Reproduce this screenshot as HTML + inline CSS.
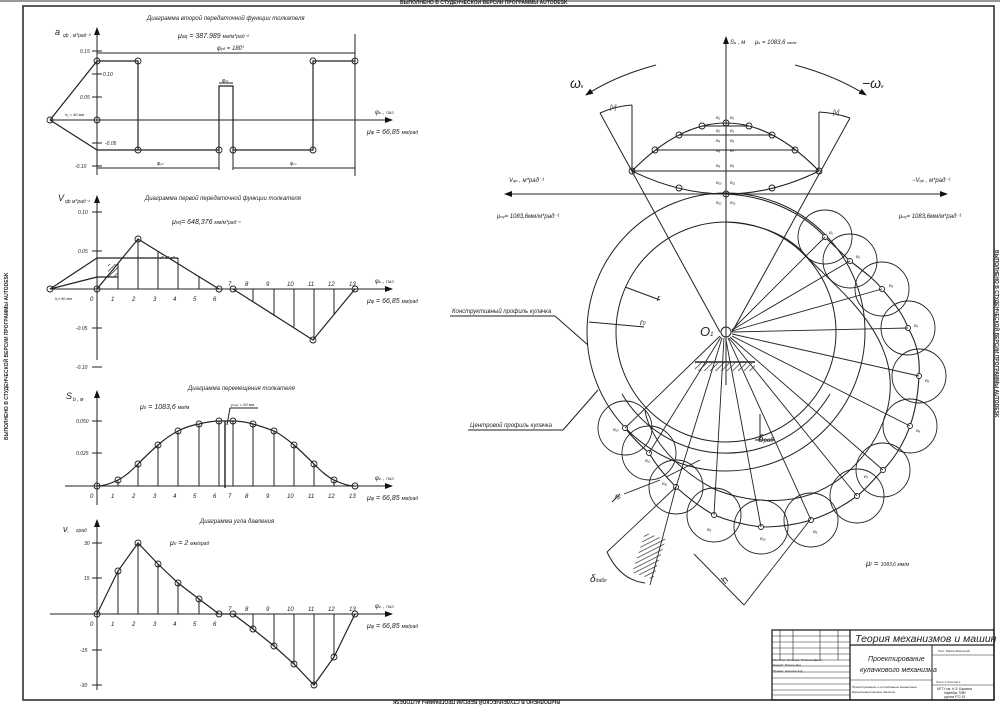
<!DOCTYPE html>
<html><head><meta charset="utf-8"><style>
html,body{margin:0;padding:0;background:#fff;}
svg{display:block;font-family:"Liberation Sans",sans-serif;font-style:italic;}
text{fill:#222;}
</style></head><body>
<svg width="1000" height="705" viewBox="0 0 1000 705" xmlns="http://www.w3.org/2000/svg">
<defs>
<marker id="ar" markerWidth="8" markerHeight="6" refX="7" refY="3" orient="auto"><path d="M0,0 L8,3 L0,6 z" fill="#111"/></marker>
<pattern id="hat" width="4" height="4" patternUnits="userSpaceOnUse" patternTransform="rotate(45)"><line x1="0" y1="0" x2="0" y2="4" stroke="#222" stroke-width="1.3"/></pattern>
</defs>
<rect x="0" y="0" width="1000" height="705" fill="#fff"/>
<g stroke="#222" fill="none" stroke-width="1">
<rect x="23" y="6" width="971" height="694" stroke-width="1.5"/>
<line x1="0" y1="1" x2="1000" y2="1" stroke="#999" stroke-width="2"/>

<line x1="97" y1="175" x2="97" y2="28" marker-end="url(#ar)"/>
<line x1="50" y1="120" x2="392" y2="120" marker-end="url(#ar)"/>
<g stroke-width="1.2">
<polyline points="50,120 97,61 138,61 138,150 219,150 219,86 233,86 233,150 313,150 313,61 355,61"/>
<line x1="50" y1="120" x2="97" y2="150"/><line x1="97" y1="150" x2="138" y2="150"/>
</g>
<line x1="97" y1="53" x2="355" y2="53"/><line x1="355" y1="34" x2="355" y2="176"/>
<line x1="97" y1="168" x2="219" y2="168"/><line x1="233" y1="168" x2="355" y2="168"/>
<line x1="219" y1="150" x2="219" y2="170"/><line x1="233" y1="150" x2="233" y2="170"/>
<line x1="219" y1="83" x2="233" y2="83"/>
<g><line x1="92" y1="51" x2="102" y2="51"/><line x1="92" y1="74" x2="102" y2="74"/><line x1="92" y1="97" x2="102" y2="97"/><line x1="92" y1="143" x2="102" y2="143"/><line x1="92" y1="166" x2="102" y2="166"/></g>
<g stroke-width="0.9"><circle cx="50" cy="120" r="3"/><circle cx="97" cy="120" r="3"/><circle cx="97" cy="61" r="3"/><circle cx="138" cy="61" r="3"/><circle cx="138" cy="150" r="3"/><circle cx="219" cy="150" r="3"/><circle cx="233" cy="150" r="3"/><circle cx="313" cy="150" r="3"/><circle cx="313" cy="61" r="3"/><circle cx="355" cy="61" r="3"/></g>

<line x1="97" y1="360" x2="97" y2="196" marker-end="url(#ar)"/>
<line x1="50" y1="289" x2="392" y2="289" marker-end="url(#ar)"/>
<g stroke-width="1.2"><polyline points="97,289 138,239 219,289"/><polyline points="233,289 313,340 355,289"/>
<line x1="50" y1="289" x2="97" y2="258"/><line x1="50" y1="289" x2="97" y2="277"/><line x1="97" y1="258" x2="178" y2="258"/><line x1="97" y1="277" x2="118" y2="277"/></g>
<rect x="108" y="264" width="10" height="13" fill="url(#hat)" stroke="none"/>
<rect x="160" y="256" width="18" height="3" fill="url(#hat)" stroke="none"/>
<g><line x1="118" y1="264" x2="118" y2="289"/><line x1="138" y1="239" x2="138" y2="289"/><line x1="158" y1="251" x2="158" y2="289"/><line x1="178" y1="258" x2="178" y2="289"/><line x1="199" y1="276" x2="199" y2="289"/>
<line x1="253" y1="289" x2="253" y2="302"/><line x1="274" y1="289" x2="274" y2="315"/><line x1="294" y1="289" x2="294" y2="327"/><line x1="314" y1="289" x2="314" y2="340"/><line x1="334" y1="289" x2="334" y2="315"/></g>
<g><line x1="92" y1="212" x2="102" y2="212"/><line x1="92" y1="251" x2="102" y2="251"/><line x1="92" y1="328" x2="102" y2="328"/><line x1="92" y1="367" x2="102" y2="367"/></g>
<g stroke-width="0.9"><circle cx="50" cy="289" r="3"/><circle cx="97" cy="289" r="3"/><circle cx="138" cy="239" r="3"/><circle cx="219" cy="289" r="3"/><circle cx="233" cy="289" r="3"/><circle cx="313" cy="340" r="3"/><circle cx="355" cy="289" r="3"/></g>

<line x1="97" y1="505" x2="97" y2="391" marker-end="url(#ar)"/>
<line x1="65" y1="486" x2="392" y2="486" marker-end="url(#ar)"/>
<line x1="92" y1="421" x2="102" y2="421"/><line x1="92" y1="453" x2="102" y2="453"/>
<path d="M97,486 C105,486 112,483 118,480 C126,476 132,470 138,464 C146,456 152,450 158,445 C166,438 172,434 178,431 C186,427 192,425 199,424 C207,422 212,421 219,421 L233,421 C240,421 246,422 253,424 C260,426 266,428 274,431 C282,435 288,440 294,445 C302,452 308,458 314,464 C320,470 326,476 334,480 C342,484 348,486 355,486" stroke-width="1.2"/>
<g><line x1="118" y1="480" x2="118" y2="486"/><line x1="138" y1="464" x2="138" y2="486"/><line x1="158" y1="445" x2="158" y2="486"/><line x1="178" y1="431" x2="178" y2="486"/><line x1="199" y1="424" x2="199" y2="486"/><line x1="219" y1="421" x2="219" y2="486"/><line x1="233" y1="421" x2="233" y2="486"/><line x1="253" y1="424" x2="253" y2="486"/><line x1="274" y1="431" x2="274" y2="486"/><line x1="294" y1="445" x2="294" y2="486"/><line x1="314" y1="464" x2="314" y2="486"/><line x1="334" y1="480" x2="334" y2="486"/>
<line x1="225" y1="421" x2="225" y2="488" stroke-width="1.4"/><line x1="227" y1="425" x2="230" y2="408"/><line x1="230" y1="408" x2="258" y2="408"/></g>
<g stroke-width="0.9"><circle cx="97" cy="486" r="3"/><circle cx="118" cy="480" r="3"/><circle cx="138" cy="464" r="3"/><circle cx="158" cy="445" r="3"/><circle cx="178" cy="431" r="3"/><circle cx="199" cy="424" r="3"/><circle cx="219" cy="421" r="3"/><circle cx="233" cy="421" r="3"/><circle cx="253" cy="424" r="3"/><circle cx="274" cy="431" r="3"/><circle cx="294" cy="445" r="3"/><circle cx="314" cy="464" r="3"/><circle cx="334" cy="480" r="3"/><circle cx="355" cy="486" r="3"/></g>

<line x1="97" y1="690" x2="97" y2="520" marker-end="url(#ar)"/>
<line x1="50" y1="614" x2="392" y2="614" marker-end="url(#ar)"/>
<g><line x1="92" y1="543" x2="102" y2="543"/><line x1="92" y1="578" x2="102" y2="578"/><line x1="92" y1="650" x2="102" y2="650"/><line x1="92" y1="685" x2="102" y2="685"/></g>
<polyline points="97,614 118,571 138,543 158,564 178,583 199,599 219,614 233,614 253,629 274,646 294,664 314,685 334,657 355,614" stroke-width="1.2"/>
<g><line x1="118" y1="571" x2="118" y2="614"/><line x1="138" y1="543" x2="138" y2="614"/><line x1="158" y1="564" x2="158" y2="614"/><line x1="178" y1="583" x2="178" y2="614"/><line x1="199" y1="599" x2="199" y2="614"/><line x1="253" y1="614" x2="253" y2="629"/><line x1="274" y1="614" x2="274" y2="646"/><line x1="294" y1="614" x2="294" y2="664"/><line x1="314" y1="614" x2="314" y2="685"/><line x1="334" y1="614" x2="334" y2="657"/></g>
<g stroke-width="0.9"><circle cx="97" cy="614" r="3"/><circle cx="118" cy="571" r="3"/><circle cx="138" cy="543" r="3"/><circle cx="158" cy="564" r="3"/><circle cx="178" cy="583" r="3"/><circle cx="199" cy="599" r="3"/><circle cx="219" cy="614" r="3"/><circle cx="233" cy="614" r="3"/><circle cx="253" cy="629" r="3"/><circle cx="274" cy="646" r="3"/><circle cx="294" cy="664" r="3"/><circle cx="314" cy="685" r="3"/><circle cx="334" cy="657" r="3"/><circle cx="355" cy="614" r="3"/></g>

<line x1="726" y1="385" x2="726" y2="37" marker-end="url(#ar)"/>
<line x1="726" y1="194" x2="505" y2="194" marker-end="url(#ar)"/>
<line x1="726" y1="194" x2="947" y2="194" marker-end="url(#ar)"/>
<path d="M656,65 Q615,76 586,95" marker-end="url(#ar)"/>
<path d="M795,65 Q836,76 866,95" marker-end="url(#ar)"/>
<path d="M632,171 Q726,75 819,171" stroke-width="1.1"/>
<path d="M632,171 Q726,217 819,171" stroke-width="1.1"/>
<line x1="632" y1="171" x2="819" y2="171"/><line x1="655" y1="150" x2="795" y2="150"/><line x1="679" y1="135" x2="772" y2="135"/><line x1="702" y1="126" x2="749" y2="126"/>
<line x1="632" y1="171" x2="632" y2="105"/><line x1="819" y1="171" x2="819" y2="112"/>
<line x1="600" y1="113" x2="720" y2="332"/><line x1="850" y1="118" x2="732" y2="332"/>
<path d="M600,113 Q616,106 632,105"/><path d="M819,112 Q836,113 850,118"/>
<g stroke-width="0.9"><circle cx="726" cy="123" r="3"/><circle cx="702" cy="126" r="3"/><circle cx="749" cy="126" r="3"/><circle cx="679" cy="135" r="3"/><circle cx="772" cy="135" r="3"/><circle cx="655" cy="150" r="3"/><circle cx="795" cy="150" r="3"/><circle cx="632" cy="171" r="3"/><circle cx="819" cy="171" r="3"/><circle cx="679" cy="188" r="3"/><circle cx="772" cy="188" r="3"/><circle cx="726" cy="194" r="3"/></g>
<circle cx="726" cy="332" r="139"/>
<circle cx="726" cy="332" r="110"/>
<circle cx="726" cy="332" r="5"/>
<path d="M622,394 A121,121 0 0 0 830,394" />
<path d="M726,194 C770,196 805,215 825,237 L850,261 C866,273 876,281 882,289 C896,305 904,316 908,328 C918,345 920,360 919,376 C918,395 915,412 910,426 C903,445 893,460 883,470 C873,480 866,489 857,496 C842,507 827,515 811,520 C795,525 778,527 761,527 C744,525 729,521 714,515 C700,507 688,498 676,487 C665,476 656,465 649,453 C640,445 632,437 625,428" stroke-width="1.1"/>
<path d="M726,222 C765,224 792,238 808,258 C822,272 838,287 852,302 C866,318 878,335 884,352 C892,372 892,395 886,414 C878,438 866,455 848,472 C830,488 808,498 784,500 C760,502 734,498 712,488 C690,476 672,460 660,444 C652,432 646,420 645,410" stroke-width="1"/>
<g stroke-width="0.9">
<circle cx="825" cy="237" r="27"/><circle cx="850" cy="261" r="27"/><circle cx="882" cy="289" r="27"/><circle cx="908" cy="328" r="27"/><circle cx="919" cy="376" r="27"/><circle cx="910" cy="426" r="27"/><circle cx="883" cy="470" r="27"/><circle cx="857" cy="496" r="27"/><circle cx="811" cy="520" r="27"/><circle cx="761" cy="527" r="27"/><circle cx="714" cy="515" r="27"/><circle cx="676" cy="487" r="27"/><circle cx="649" cy="453" r="27"/><circle cx="625" cy="428" r="27"/>
</g>
<g fill="#fff" stroke-width="0.9"><circle cx="825" cy="237" r="2.5"/><circle cx="850" cy="261" r="2.5"/><circle cx="882" cy="289" r="2.5"/><circle cx="908" cy="328" r="2.5"/><circle cx="919" cy="376" r="2.5"/><circle cx="910" cy="426" r="2.5"/><circle cx="883" cy="470" r="2.5"/><circle cx="857" cy="496" r="2.5"/><circle cx="811" cy="520" r="2.5"/><circle cx="761" cy="527" r="2.5"/><circle cx="714" cy="515" r="2.5"/><circle cx="676" cy="487" r="2.5"/><circle cx="649" cy="453" r="2.5"/><circle cx="625" cy="428" r="2.5"/></g>
<g stroke-width="0.9">
<line x1="732" y1="330" x2="825" y2="237"/><line x1="732" y1="330" x2="850" y2="261"/><line x1="732" y1="331" x2="882" y2="289"/><line x1="732" y1="332" x2="908" y2="328"/><line x1="732" y1="334" x2="919" y2="376"/><line x1="732" y1="336" x2="910" y2="426"/><line x1="730" y1="337" x2="883" y2="470"/><line x1="729" y1="338" x2="857" y2="496"/><line x1="728" y1="338" x2="811" y2="520"/><line x1="726" y1="340" x2="761" y2="527"/><line x1="724" y1="338" x2="714" y2="515"/><line x1="722" y1="338" x2="676" y2="487"/><line x1="721" y1="337" x2="649" y2="453"/><line x1="720" y1="336" x2="625" y2="428"/>
<line x1="676" y1="487" x2="650" y2="585"/><line x1="676" y1="487" x2="607" y2="552"/>
<line x1="694" y1="554" x2="744" y2="605"/><line x1="744" y1="605" x2="810" y2="520"/>
<line x1="666" y1="477" x2="700" y2="460"/><line x1="624" y1="494" x2="660" y2="480"/>
</g>
<path d="M607,552 Q620,580 645,583"/>
<line x1="695" y1="362" x2="755" y2="362" stroke-width="1.4"/>
<rect x="695" y="363" width="60" height="8" fill="url(#hat)" stroke="none"/>
<rect x="638" y="535" width="22" height="42" fill="url(#hat)" stroke="none" transform="rotate(18 649 556)"/>
<line x1="760" y1="414" x2="760" y2="440"/><line x1="755" y1="440" x2="775" y2="440"/>
<line x1="450" y1="316" x2="555" y2="316"/><line x1="555" y1="316" x2="588" y2="345"/>
<line x1="468" y1="430" x2="563" y2="430"/><line x1="563" y1="430" x2="598" y2="390"/>
<line x1="612" y1="502" x2="620" y2="494"/>
<line x1="625" y1="287" x2="660" y2="300"/><line x1="589" y1="322" x2="644" y2="327"/>

<rect x="772" y="630" width="222" height="70" stroke-width="1.3"/>
<line x1="850" y1="630" x2="850" y2="700" stroke-width="1.3"/>
<line x1="850" y1="645" x2="994" y2="645" stroke-width="1.2"/>
<line x1="932" y1="645" x2="932" y2="700"/>
<line x1="932" y1="655" x2="994" y2="655" stroke-width="0.6"/><line x1="932" y1="685" x2="994" y2="685" stroke-width="0.6"/>
<line x1="850" y1="680" x2="932" y2="680" stroke-width="0.6"/>
<g stroke-width="0.6"><line x1="772" y1="636" x2="850" y2="636"/><line x1="772" y1="642" x2="850" y2="642"/><line x1="772" y1="648" x2="850" y2="648"/><line x1="772" y1="654" x2="850" y2="654"/><line x1="772" y1="660" x2="850" y2="660"/><line x1="772" y1="666" x2="850" y2="666"/><line x1="772" y1="672" x2="850" y2="672"/><line x1="772" y1="678" x2="850" y2="678"/><line x1="772" y1="684" x2="850" y2="684"/><line x1="772" y1="690" x2="850" y2="690"/><line x1="772" y1="695" x2="850" y2="695"/>
<line x1="780" y1="630" x2="780" y2="660"/><line x1="793" y1="630" x2="793" y2="660"/><line x1="820" y1="630" x2="820" y2="660"/><line x1="838" y1="630" x2="838" y2="660"/></g>
</g>

<g font-size="6">
<text x="400" y="4" font-weight="bold" font-style="normal" font-size="5">ВЫПОЛНЕНО В СТУДЕНЧЕСКОЙ ВЕРСИИ ПРОГРАММЫ AUTODESK</text>
<text x="400" y="704" font-weight="bold" font-style="normal" font-size="5" transform="rotate(180 480 702)">ВЫПОЛНЕНО В СТУДЕНЧЕСКОЙ ВЕРСИИ ПРОГРАММЫ AUTODESK</text>
<text x="-440" y="8" font-weight="bold" font-style="normal" font-size="5" transform="rotate(-90)" >ВЫПОЛНЕНО В СТУДЕНЧЕСКОЙ ВЕРСИИ ПРОГРАММЫ AUTODESK</text>
<text x="250" y="-995" font-weight="bold" font-style="normal" font-size="5" transform="rotate(90)">ВЫПОЛНЕНО В СТУДЕНЧЕСКОЙ ВЕРСИИ ПРОГРАММЫ AUTODESK</text>

<text x="147" y="20">Диаграмма второй передаточной функции толкателя</text>
<text x="55" y="35" font-size="9">a</text><text x="63" y="37" font-size="5">qb , м*рад⁻²</text>
<text x="178" y="38" font-size="7">μ<tspan font-size="5">aq</tspan> = 387.989 <tspan font-size="5">мм/м*рад⁻²</tspan></text>
<text x="217" y="50" font-size="6">φ<tspan font-size="4">уд</tspan> = 180°</text>
<text x="80" y="53" font-size="5">0.15</text><text x="103" y="76" font-size="5">0.10</text><text x="80" y="99" font-size="5">0.05</text><text x="105" y="145" font-size="5">-0.05</text><text x="75" y="168" font-size="5">-0.10</text>
<text x="65" y="116" font-size="4">h₁ = 40 мм</text>
<text x="222" y="82" font-size="5">φ<tspan font-size="3">дс</tspan></text>
<text x="157" y="165" font-size="5">φ<tspan font-size="3">уд</tspan></text><text x="290" y="165" font-size="5">φ<tspan font-size="3">сп</tspan></text>
<text x="375" y="114" font-size="6">φ<tspan font-size="4">к</tspan> , <tspan font-size="4">ПАЗ</tspan></text>
<text x="367" y="134" font-size="7">μ<tspan font-size="5">φ</tspan> = 66,85 <tspan font-size="5">мм/рад</tspan></text>

<text x="145" y="200">Диаграмма первой передаточной функции толкателя</text>
<text x="58" y="201" font-size="9">V</text><text x="65" y="203" font-size="5">qb   м*рад⁻¹</text>
<text x="172" y="224" font-size="7">μ<tspan font-size="5">vq</tspan>= 648,376 <tspan font-size="5">мм/м*рад⁻¹</tspan></text>
<text x="78" y="214" font-size="5">0.10</text><text x="78" y="253" font-size="5">0.05</text><text x="76" y="330" font-size="5">-0.05</text><text x="76" y="369" font-size="5">-0.10</text>
<text x="55" y="300" font-size="4">h₁+40 мм</text>
<text x="375" y="283" font-size="6">φ<tspan font-size="4">к</tspan> , <tspan font-size="4">ПАЗ</tspan></text>
<text x="367" y="303" font-size="7">μ<tspan font-size="5">φ</tspan> = 66,85 <tspan font-size="5">мм/рад</tspan></text>
<g font-size="6"><text x="90" y="301">0</text><text x="111" y="301">1</text><text x="132" y="301">2</text><text x="153" y="301">3</text><text x="173" y="301">4</text><text x="193" y="301">5</text><text x="213" y="301">6</text><text x="228" y="286">7</text><text x="245" y="286">8</text><text x="266" y="286">9</text><text x="287" y="286">10</text><text x="308" y="286">11</text><text x="328" y="286">12</text><text x="349" y="286">13</text></g>

<text x="188" y="390">Диаграмма перемещения толкателя</text>
<text x="66" y="399" font-size="9">S</text><text x="73" y="401" font-size="5">b , м</text>
<text x="140" y="409" font-size="7">μ<tspan font-size="5">s</tspan> = 1083,6 <tspan font-size="5">мм/м</tspan></text>
<text x="231" y="406" font-size="4">y<tspan font-size="3">max</tspan> = 60 мм</text>
<text x="76" y="423" font-size="5">0.050</text><text x="76" y="455" font-size="5">0.025</text>
<text x="375" y="480" font-size="6">φ<tspan font-size="4">к</tspan> , <tspan font-size="4">ПАЗ</tspan></text>
<text x="367" y="500" font-size="7">μ<tspan font-size="5">φ</tspan> = 66,85 <tspan font-size="5">мм/рад</tspan></text>
<g font-size="6"><text x="90" y="498">0</text><text x="111" y="498">1</text><text x="132" y="498">2</text><text x="153" y="498">3</text><text x="173" y="498">4</text><text x="193" y="498">5</text><text x="213" y="498">6</text><text x="228" y="498">7</text><text x="245" y="498">8</text><text x="266" y="498">9</text><text x="287" y="498">10</text><text x="308" y="498">11</text><text x="328" y="498">12</text><text x="349" y="498">13</text></g>

<text x="200" y="523">Диаграмма угла давления</text>
<text x="63" y="532" font-size="9">ν<tspan font-size="5">, </tspan></text><text x="76" y="532" font-size="5">град</text>
<text x="170" y="545" font-size="7">μ<tspan font-size="5">ν</tspan> = 2 <tspan font-size="5">мм/град</tspan></text>
<text x="84" y="545" font-size="5">30</text><text x="84" y="580" font-size="5">15</text><text x="80" y="652" font-size="5">-15</text><text x="80" y="687" font-size="5">-30</text>
<text x="375" y="608" font-size="6">φ<tspan font-size="4">к</tspan> , <tspan font-size="4">ПАЗ</tspan></text>
<text x="367" y="628" font-size="7">μ<tspan font-size="5">φ</tspan> = 66,85 <tspan font-size="5">мм/рад</tspan></text>
<g font-size="6"><text x="90" y="626">0</text><text x="111" y="626">1</text><text x="132" y="626">2</text><text x="153" y="626">3</text><text x="173" y="626">4</text><text x="193" y="626">5</text><text x="213" y="626">6</text><text x="228" y="611">7</text><text x="245" y="611">8</text><text x="266" y="611">9</text><text x="287" y="611">10</text><text x="308" y="611">11</text><text x="328" y="611">12</text><text x="349" y="611">13</text></g>

<text x="730" y="44" font-size="6">S<tspan font-size="4">b</tspan> , м</text>
<text x="755" y="44" font-size="6">μ<tspan font-size="4">s</tspan> = 1083,6 <tspan font-size="4">мм/м</tspan></text>
<text x="570" y="88" font-size="14">ω<tspan font-size="5">к</tspan></text>
<text x="862" y="88" font-size="14">−ω<tspan font-size="5">к</tspan></text>
<text x="610" y="109" font-size="6">[ν]</text><text x="833" y="114" font-size="6">[ν]</text>
<text x="509" y="182" font-size="6">V<tspan font-size="4">qb</tspan> , м*рад⁻¹</text>
<text x="912" y="182" font-size="6">−V<tspan font-size="4">qb</tspan> , м*рад⁻¹</text>
<text x="497" y="218" font-size="6">μ<tspan font-size="4">vq</tspan>= 1083,6мм/м*рад⁻¹</text>
<text x="899" y="218" font-size="6">μ<tspan font-size="4">vq</tspan>= 1083,6мм/м*рад⁻¹</text>
<g font-size="4"><text x="716" y="119">B₁</text><text x="730" y="119">B₁</text><text x="716" y="132">B₂</text><text x="730" y="132">B₃</text><text x="716" y="142">B₄</text><text x="730" y="142">B₅</text><text x="716" y="152">B₆</text><text x="730" y="152">B₇</text><text x="716" y="167">B₈</text><text x="730" y="167">B₉</text><text x="716" y="184">B₁₀</text><text x="730" y="184">B₁₁</text><text x="716" y="204">B₁₂</text><text x="730" y="204">B₁₃</text>
<text x="829" y="234">B₁</text><text x="856" y="258">B₂</text><text x="889" y="287">B₃</text><text x="914" y="327">B₄</text><text x="925" y="382">B₅</text><text x="916" y="432">B₆</text><text x="864" y="478">B₇</text><text x="813" y="533">B₈</text><text x="707" y="531">B₉</text><text x="760" y="540">B₁₀</text><text x="662" y="485">B₁₁</text><text x="645" y="462">B₁₂</text><text x="613" y="431">B₁₃</text></g>
<text x="700" y="336" font-size="13">O<tspan font-size="6">1</tspan></text>
<text x="657" y="301" font-size="9">r</text><text x="640" y="325" font-size="8">r<tspan font-size="5">0</tspan></text>
<text x="452" y="313" font-size="6">Конструктивный профиль кулачка</text>
<text x="470" y="427" font-size="6">Центровой профиль кулачка</text>
<text x="758" y="442" font-size="10">δ<tspan font-size="6">раб</tspan></text>
<text x="615" y="499" font-size="8">r<tspan font-size="5">р</tspan></text>
<text x="590" y="582" font-size="10">δ<tspan font-size="5">дабл</tspan></text>
<text x="722" y="583" font-size="10" transform="rotate(-50 725 580)">h</text>
<text x="866" y="566" font-size="8">μ<tspan font-size="5">l</tspan>  =  <tspan font-size="5">1083,6 мм/м</tspan></text>

<text x="855" y="642" font-size="10.5">Теория механизмов и машин</text>
<text x="868" y="661" font-size="7">Проектирование</text>
<text x="860" y="672" font-size="7">кулачкового механизма</text>
<text x="852" y="688" font-size="3">Проектирование и исследование механизмов</text>
<text x="852" y="693" font-size="3">Бронетранспортера обьекта</text>
<text x="937" y="690" font-size="3.2">МГТУ им. Н.Э. Баумана</text>
<text x="944" y="694" font-size="3.2">Кафедра ТММ</text>
<text x="944" y="698" font-size="3.2">группа РТ2-51</text>
<text x="772" y="661" font-size="3">Изм Лист  № докум.  Подпись Дата</text>
<text x="773" y="666" font-size="3">Разраб.  Волков Д.Н.</text>
<text x="773" y="672" font-size="3">Провер.  Архипов А.Д.</text>
<text x="938" y="652" font-size="3">Лит.   Масса   Масштаб</text>
<text x="936" y="683" font-size="3">Лист 1    Листов 1</text>
</g>
</svg>
</body></html>
